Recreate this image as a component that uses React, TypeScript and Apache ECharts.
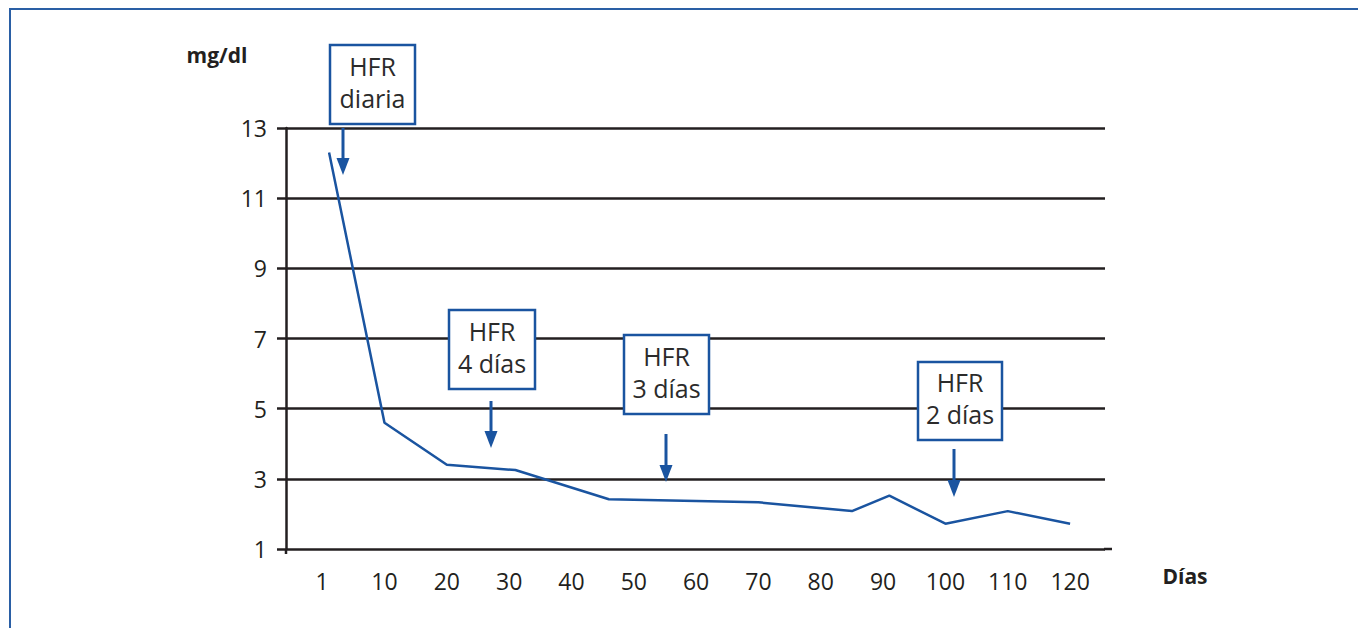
import React, { useEffect, useRef } from "react";
import * as echarts from "echarts";

// Tick labels of the x axis (days), evenly spaced categories
const dayTicks: number[] = [1, 10, 20, 30, 40, 50, 60, 70, 80, 90, 100, 110, 120];
// Measured series: day and mg/dl
const seriesDays: number[] = [2, 10, 20, 31, 46, 70, 85, 91, 100, 110, 120];
const seriesValues: number[] = [12.3, 4.6, 3.4, 3.25, 2.42, 2.33, 2.08, 2.52, 1.72, 2.08, 1.72];
// Y ticks
const yMin = 1;
const yMax = 13;
const yStep = 2;
// Annotations
const annotationTexts: string[] = ["HFR\ndiaria", "HFR\n4 días", "HFR\n3 días", "HFR\n2 días"];

const BLUE = "#1a54a0";
const INK = "#231f20";
const FONT = "'Open Sans', 'DejaVu Sans', sans-serif";

// map a day to its position on the evenly spaced tick index scale
function dayToIndex(d: number): number {
  for (let i = 0; i < dayTicks.length - 1; i++) {
    const a = dayTicks[i];
    const b = dayTicks[i + 1];
    if (d <= b) return i + (d - a) / (b - a);
  }
  return dayTicks.length - 1;
}

export default function App() {
  const ref = useRef<HTMLDivElement>(null);
  useEffect(() => {
    if (!ref.current) return;
    const chart = echarts.init(ref.current, null, { renderer: "svg" });

    const boxes = [
      { x: 330, y: 45, w: 85, h: 79, ax: 343, a0: 128, a1: 175 },
      { x: 449, y: 310, w: 86, h: 79, ax: 491, a0: 401, a1: 448 },
      { x: 624, y: 335, w: 85, h: 79, ax: 666, a0: 434, a1: 482 },
      { x: 918, y: 362, w: 84, h: 78, ax: 954, a0: 449, a1: 497 },
    ];
    const graphics: any[] = [
      { type: "line", shape: { x1: 10, y1: 9, x2: 1358, y2: 9 }, style: { stroke: "#2a5fa5", lineWidth: 2 }, z: 100 },
      { type: "line", shape: { x1: 10, y1: 8, x2: 10, y2: 628 }, style: { stroke: "#2a5fa5", lineWidth: 2 }, z: 100 },
      { type: "line", shape: { x1: 1104, y1: 549, x2: 1112, y2: 549 }, style: { stroke: INK, lineWidth: 2.5 }, z: 100 },
      { type: "line", shape: { x1: 286, y1: 549, x2: 286, y2: 554 }, style: { stroke: INK, lineWidth: 2.5 }, z: 100 },
      { type: "text", x: 217, y: 55, style: { text: "mg/dl", font: `bold 21px ${FONT}`, fill: INK, align: "center", verticalAlign: "middle" }, z: 100 },
      { type: "text", x: 1185, y: 576, style: { text: "Días", font: `bold 21px ${FONT}`, fill: INK, align: "center", verticalAlign: "middle" }, z: 100 },
    ];
    boxes.forEach((b, i) => {
      graphics.push({
        type: "rect",
        shape: { x: b.x, y: b.y, width: b.w, height: b.h },
        style: { fill: "#fff", stroke: BLUE, lineWidth: 2.5 },
        z: 100,
      });
      graphics.push({
        type: "text",
        x: b.x + b.w / 2,
        y: b.y + b.h / 2 - 3,
        style: {
          text: annotationTexts[i],
          font: `25px ${FONT}`,
          lineHeight: 32,
          fill: "#2b2b2b",
          align: "center",
          verticalAlign: "middle",
        },
        z: 101,
      });
      graphics.push({
        type: "line",
        shape: { x1: b.ax, y1: b.a0, x2: b.ax, y2: b.a1 - 14 },
        style: { stroke: BLUE, lineWidth: 3 },
        z: 100,
      });
      graphics.push({
        type: "polygon",
        shape: { points: [[b.ax - 6.5, b.a1 - 17], [b.ax + 6.5, b.a1 - 17], [b.ax, b.a1]] },
        style: { fill: BLUE },
        z: 100,
      });
    });

    chart.setOption({
      animation: false,
      grid: { left: 286, right: 253, top: 128, bottom: 79, containLabel: false },
      xAxis: {
        type: "value",
        min: -0.58,
        max: 12.56,
        axisLine: { show: false },
        axisTick: { show: false },
        splitLine: { show: false },
        axisLabel: {
          customValues: dayTicks.map((_, i) => i),
          formatter: (v: number) => {
            const i = Math.round(v);
            return dayTicks[i] !== undefined ? String(dayTicks[i]) : "";
          },
          color: INK,
          fontFamily: FONT,
          fontSize: 23,
          margin: 20,
        },
      },
      yAxis: {
        type: "value",
        min: yMin,
        max: yMax,
        interval: yStep,
        axisLine: { show: true, onZero: false, lineStyle: { color: INK, width: 2.5 } },
        axisTick: { show: true, length: 9, lineStyle: { color: INK, width: 2.5 } },
        splitLine: { show: true, lineStyle: { color: INK, width: 2.5 } },
        axisLabel: { color: INK, fontFamily: FONT, fontSize: 23, margin: 19 },
      },
      series: [
        {
          type: "line",
          data: seriesDays.map((d, i) => [dayToIndex(d), seriesValues[i]]),
          symbol: "none",
          lineStyle: { color: BLUE, width: 2.5 },
          z: 5,
        },
      ],
      graphic: graphics,
    });
    return () => chart.dispose();
  }, []);
  return (
    <div
      ref={ref}
      style={{ position: "absolute", left: 0, top: 0, width: 1358, height: 628, background: "#fff" }}
    />
  );
}
